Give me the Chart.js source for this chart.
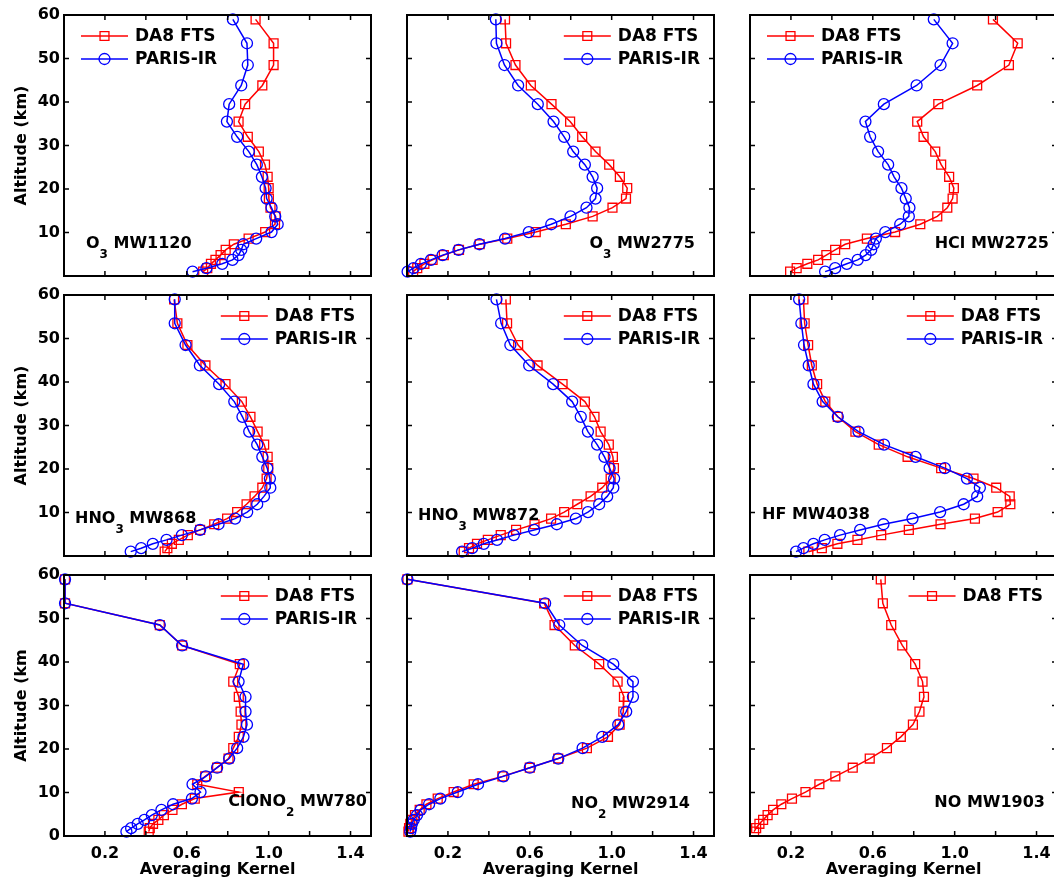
<!DOCTYPE html>
<html><head><meta charset="utf-8">
<script src="https://cdn.jsdelivr.net/npm/chart.js@4"></script>
<style>
html,body{margin:0;padding:0;background:#fff;overflow:hidden;width:1054px;height:885px;}
.p{position:absolute;}
canvas{display:block;}
</style></head><body>
<script>
// ---------- data ----------
const altitudes = [59,53.5,48.5,43.8,39.5,35.5,32,28.6,25.6,22.8,20.2,17.8,15.7,13.7,11.9,10.1,8.6,7.3,6.0,4.8,3.7,2.8,1.8,1.0];
const seriesNames = ['DA8 FTS','PARIS-IR'];
const xTickValues = [0.2,0.4,0.6,0.8,1.0,1.2,1.4];
const xTickLabels = ['0.2','','0.6','','1.0','','1.4'];
const yTickValues = [0,10,20,30,40,50,60];
const xAxisTitle = 'Averaging Kernel';

const o3_1120_da8   = [0.936,1.024,1.024,0.969,0.885,0.853,0.898,0.952,0.982,0.995,1.000,1.001,1.009,1.034,1.031,0.983,0.902,0.830,0.790,0.765,0.740,0.718,0.700,0.680];
const o3_1120_paris = [0.825,0.894,0.898,0.866,0.807,0.796,0.846,0.903,0.942,0.967,0.985,0.990,1.014,1.032,1.044,1.014,0.939,0.876,0.866,0.853,0.823,0.773,0.696,0.628];

const o3_2775_da8   = [0.479,0.484,0.530,0.605,0.706,0.797,0.856,0.921,0.988,1.040,1.076,1.070,1.004,0.907,0.776,0.629,0.490,0.355,0.254,0.180,0.125,0.085,0.050,0.030];
const o3_2775_paris = [0.434,0.437,0.476,0.543,0.639,0.716,0.768,0.812,0.869,0.907,0.929,0.921,0.877,0.799,0.705,0.595,0.479,0.354,0.252,0.174,0.117,0.068,0.032,0.003];

const hcl_2725_da8   = [1.187,1.308,1.265,1.110,0.920,0.817,0.848,0.905,0.934,0.973,0.996,0.990,0.964,0.915,0.832,0.709,0.571,0.465,0.416,0.373,0.333,0.280,0.228,0.196];
const hcl_2725_paris = [0.898,0.990,0.931,0.814,0.654,0.564,0.587,0.626,0.675,0.704,0.740,0.761,0.779,0.776,0.734,0.661,0.615,0.604,0.592,0.565,0.526,0.473,0.416,0.367];

const hno3_868_da8   = [0.538,0.554,0.603,0.691,0.789,0.869,0.911,0.946,0.978,0.995,0.998,0.990,0.969,0.931,0.892,0.846,0.797,0.734,0.665,0.605,0.561,0.527,0.505,0.492];
const hno3_868_paris = [0.541,0.541,0.594,0.664,0.758,0.832,0.872,0.905,0.944,0.969,0.993,1.006,1.008,0.977,0.944,0.895,0.836,0.755,0.665,0.576,0.501,0.434,0.377,0.326];

const hno3_872_da8   = [0.483,0.489,0.543,0.638,0.760,0.869,0.916,0.946,0.986,1.006,1.011,0.995,0.954,0.897,0.832,0.768,0.704,0.623,0.533,0.458,0.395,0.342,0.303,0.277];
const hno3_872_paris = [0.437,0.460,0.505,0.597,0.714,0.807,0.849,0.884,0.929,0.965,0.990,1.012,1.008,0.978,0.939,0.884,0.825,0.732,0.621,0.522,0.440,0.375,0.318,0.269];

const hf_4038_da8   = [0.261,0.267,0.284,0.302,0.328,0.368,0.429,0.515,0.629,0.770,0.934,1.092,1.203,1.269,1.272,1.210,1.099,0.931,0.776,0.641,0.525,0.427,0.351,0.285];
const hf_4038_paris = [0.240,0.251,0.264,0.287,0.310,0.355,0.429,0.530,0.655,0.809,0.952,1.060,1.123,1.110,1.044,0.929,0.794,0.652,0.538,0.440,0.365,0.310,0.261,0.225];

const clono2_780_da8   = [0.005,0.005,0.468,0.577,0.859,0.827,0.854,0.863,0.867,0.854,0.827,0.804,0.748,0.690,0.651,0.854,0.639,0.576,0.530,0.488,0.461,0.435,0.419,0.414];
const clono2_780_paris = [0.005,0.005,0.468,0.577,0.876,0.853,0.887,0.887,0.894,0.877,0.846,0.807,0.748,0.693,0.628,0.667,0.625,0.533,0.476,0.429,0.393,0.360,0.328,0.305];

const no2_2914_da8   = [0.002,0.670,0.721,0.820,0.939,1.029,1.060,1.057,1.039,0.982,0.879,0.739,0.600,0.466,0.326,0.228,0.150,0.095,0.062,0.039,0.026,0.016,0.010,0.007];
const no2_2914_paris = [0.002,0.675,0.744,0.856,1.008,1.104,1.104,1.071,1.032,0.954,0.858,0.739,0.600,0.471,0.347,0.248,0.163,0.108,0.067,0.049,0.033,0.024,0.020,0.016];

const no_1903_da8 = [0.639,0.649,0.690,0.744,0.807,0.843,0.850,0.828,0.796,0.737,0.669,0.585,0.502,0.417,0.339,0.271,0.205,0.153,0.113,0.086,0.064,0.046,0.030,0.020];

// ---------- panel setup (layout kept separate from data) ----------
const panels = [
  {row:0,col:0,title:['O','3',' MW1120'], series:[o3_1120_da8,o3_1120_paris], legend:'left', lab:{align:'left',dx:22,dy:233}},
  {row:0,col:1,title:['O','3',' MW2775'], series:[o3_2775_da8,o3_2775_paris], legend:'right', lab:{align:'right',dx:19,dy:233}},
  {row:0,col:2,title:['HCl MW2725','',''], series:[hcl_2725_da8,hcl_2725_paris], legend:'left', lab:{align:'right',dx:8,dy:233}},
  {row:1,col:0,title:['HNO','3',' MW868'], series:[hno3_868_da8,hno3_868_paris], legend:'right', lab:{align:'left',dx:11,dy:228}},
  {row:1,col:1,title:['HNO','3',' MW872'], series:[hno3_872_da8,hno3_872_paris], legend:'right', lab:{align:'left',dx:11,dy:225}},
  {row:1,col:2,title:['HF MW4038','',''], series:[hf_4038_da8,hf_4038_paris], legend:'right', lab:{align:'left',dx:12,dy:224}},
  {row:2,col:0,title:['ClONO','2',' MW780'], series:[clono2_780_da8,clono2_780_paris], legend:'right', lab:{align:'right',dx:4,dy:231}},
  {row:2,col:1,title:['NO','2',' MW2914'], series:[no2_2914_da8,no2_2914_paris], legend:'right', lab:{align:'right',dx:24,dy:233}},
  {row:2,col:2,title:['NO MW1903','',''], series:[no_1903_da8], legend:'right', lab:{align:'right',dx:12,dy:232}}
];

const COL_LEFT = [64,407,750], ROW_TOP = [15,295,575];
const PW = 307, PH = 261, PAD_L = 64, PAD_T = 15, PAD_R = 24, PAD_B = 49;
const FONT = '"DejaVu Sans", sans-serif';
const styles = [
  {color:'#ff0000', pointStyle:'rect', radius:6.3},
  {color:'#0000ff', pointStyle:'circle', radius:5.5}
];

Chart.defaults.font.family = FONT;
Chart.defaults.color = '#000';

function drawMarker(ctx, style, r, x, y) {
  ctx.beginPath();
  if (style === 'rect') {
    const s = Math.SQRT1_2 * r;
    ctx.rect(x - s, y - s, 2*s, 2*s);
  } else {
    ctx.arc(x, y, r, 0, Math.PI*2);
  }
  ctx.stroke();
}

function framePlugin(p) {
  return {
    id: 'frame',
    afterDraw(chart) {
      const ctx = chart.ctx, a = chart.chartArea, xs = chart.scales.x, ys = chart.scales.y;
      ctx.save();
      ctx.strokeStyle = '#000';
      ctx.lineWidth = 1.5;
      ctx.beginPath();
      for (const v of xTickValues) {
        const x = xs.getPixelForValue(v);
        ctx.moveTo(x, a.bottom); ctx.lineTo(x, a.bottom - 5);
        ctx.moveTo(x, a.top); ctx.lineTo(x, a.top + 5);
      }
      for (const v of yTickValues) {
        const y = ys.getPixelForValue(v);
        ctx.moveTo(a.left, y); ctx.lineTo(a.left + 5, y);
        ctx.moveTo(a.right, y); ctx.lineTo(a.right - 5, y);
      }
      ctx.stroke();
      ctx.lineWidth = 2;
      ctx.strokeRect(a.left, a.top, a.right - a.left, a.bottom - a.top);

      // legend
      const ds = chart.data.datasets;
      ctx.font = 'bold 17px ' + FONT;
      const maxW = Math.max(...ds.map(d => ctx.measureText(d.label).width));
      const lineLen = 47, gap = 7;
      const x0 = p.legend === 'left' ? a.left + 17 : a.right - 14 - maxW - gap - lineLen;
      ds.forEach((d, i) => {
        const y = a.top + 21 + i * 23;
        const st = styles[i];
        ctx.strokeStyle = d.borderColor;
        ctx.lineWidth = 1.5;
        ctx.beginPath(); ctx.moveTo(x0, y); ctx.lineTo(x0 + lineLen, y); ctx.stroke();
        ctx.lineWidth = 1.3;
        drawMarker(ctx, st.pointStyle, st.radius, x0 + lineLen/2, y);
        ctx.fillStyle = '#000';
        ctx.textBaseline = 'middle';
        ctx.textAlign = 'left';
        ctx.fillText(d.label, x0 + lineLen + gap, y + 1);
      });

      // panel label with subscript
      const [main, sub, rest] = p.title;
      ctx.textBaseline = 'alphabetic';
      ctx.font = 'bold 16px ' + FONT;
      const wMain = ctx.measureText(main).width, wRest = ctx.measureText(rest).width;
      ctx.font = 'bold 12px ' + FONT;
      const wSub = ctx.measureText(sub).width;
      const total = wMain + wSub + wRest;
      const lx = p.lab.align === 'left' ? a.left + p.lab.dx : a.right - p.lab.dx - total;
      const ly = a.top + p.lab.dy;
      ctx.fillStyle = '#000';
      ctx.font = 'bold 16px ' + FONT;
      ctx.fillText(main, lx, ly);
      ctx.font = 'bold 12px ' + FONT;
      ctx.fillText(sub, lx + wMain, ly + 10);
      ctx.font = 'bold 16px ' + FONT;
      ctx.fillText(rest, lx + wMain + wSub, ly);
      ctx.restore();
    }
  };
}

panels.forEach(p => {
  const div = document.createElement('div');
  div.className = 'p';
  const w = PAD_L + PW + PAD_R, h = PAD_T + PH + PAD_B;
  div.style.left = (COL_LEFT[p.col] - PAD_L) + 'px';
  div.style.top = (ROW_TOP[p.row] - PAD_T) + 'px';
  div.style.width = w + 'px'; div.style.height = h + 'px';
  const cv = document.createElement('canvas');
  cv.width = w; cv.height = h;
  cv.style.width = w + 'px'; cv.style.height = h + 'px';
  div.appendChild(cv);
  document.body.appendChild(div);

  const showX = p.row === 2, showY = p.col === 0;
  const datasets = p.series.map((vals, si) => ({
    label: seriesNames[si],
    data: altitudes.map((alt, i) => ({x: vals[i], y: alt})),
    borderColor: styles[si].color,
    backgroundColor: 'rgba(0,0,0,0)',
    pointBackgroundColor: 'rgba(0,0,0,0)',
    pointBorderColor: styles[si].color,
    pointStyle: styles[si].pointStyle,
    pointRadius: styles[si].radius,
    pointBorderWidth: 1.3,
    borderWidth: 1.5,
    showLine: true,
    tension: 0,
    clip: false,
    order: p.series.length - 1 - si
  }));

  new Chart(cv, {
    type: 'scatter',
    data: {datasets},
    options: {
      responsive: false,
      animation: false,
      devicePixelRatio: 1,
      events: [],
      layout: {padding: {top: PAD_T, right: PAD_R, left: 0, bottom: 0}},
      plugins: {legend: {display: false}, tooltip: {enabled: false}},
      scales: {
        x: {
          type: 'linear', position: 'bottom', min: 0, max: 1.5,
          grid: {display: false, drawTicks: false},
          border: {display: false},
          afterBuildTicks: s => { s.ticks = xTickValues.map(v => ({value: v})); },
          afterFit: s => { s.height = PAD_B; },
          ticks: {display: showX, autoSkip: false, maxRotation: 0, padding: 8,
                  font: {size: 16, weight: 'bold'}, color: '#000',
                  callback: (v, i) => xTickLabels[i]},
          title: {display: showX, text: xAxisTitle, color: '#000',
                  font: {size: 16, weight: 'bold'}, padding: {top: 0, bottom: 6}}
        },
        y: {
          type: 'linear', position: 'left', min: 0, max: 60,
          grid: {display: false, drawTicks: false},
          border: {display: false},
          afterBuildTicks: s => { s.ticks = yTickValues.map(v => ({value: v})); },
          afterFit: s => { s.width = PAD_L; },
          ticks: {display: showY, autoSkip: false, padding: 4,
                  font: {size: 16, weight: 'bold'}, color: '#000',
                  callback: v => (p.row < 2 && v === 0) ? '' : String(v)},
          title: {display: showY, text: p.row === 2 ? 'Altitude (km' : 'Altitude (km)', color: '#000',
                  font: {size: 16, weight: 'bold'}, padding: 12}
        }
      }
    },
    plugins: [framePlugin(p)]
  });
});
</script>
</body></html>
